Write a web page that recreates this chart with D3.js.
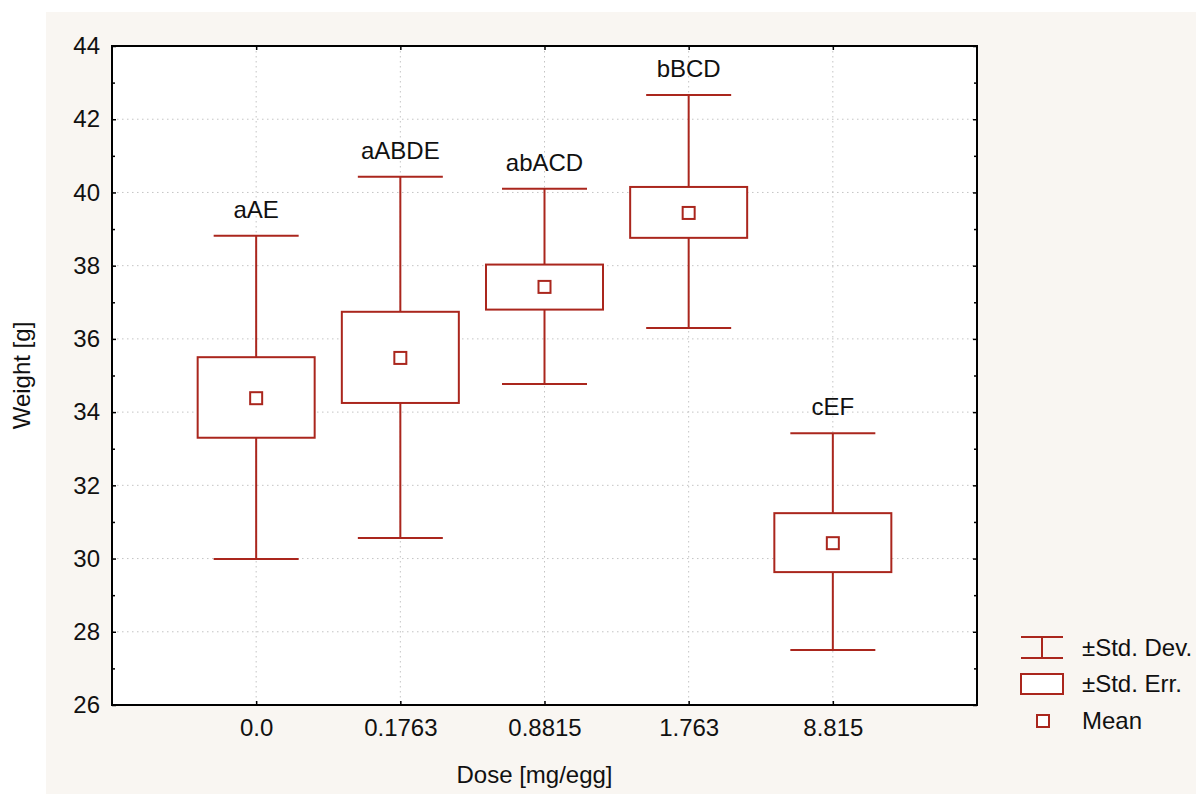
<!DOCTYPE html>
<html>
<head>
<meta charset="utf-8">
<script src="https://cdn.jsdelivr.net/npm/d3@7"></script>
<style>
  body { margin: 0; background: #fff; }
  text { font-family: "Liberation Sans", Arial, sans-serif; fill: #111; }
</style>
</head>
<body>
<script>
// data
var doses = ['0.0', '0.1763', '0.8815', '1.763', '8.815'];
var means = [34.38, 35.48, 37.42, 39.44, 30.42];
var seLow = [33.30, 34.25, 36.80, 38.76, 29.63];
var seHigh = [35.50, 36.74, 38.03, 40.15, 31.24];
var sdLow = [29.99, 30.56, 34.77, 36.30, 27.50];
var sdHigh = [38.82, 40.43, 40.10, 42.66, 33.42];
var letters = ['aAE', 'aABDE', 'abACD', 'bBCD', 'cEF'];
var yTicks = [26, 28, 30, 32, 34, 36, 38, 40, 42, 44];
var legendItems = ['±Std. Dev.', '±Std. Err.', 'Mean'];

var red = '#aa261d';

var svg = d3.select('body').append('svg')
  .attr('width', 1196)
  .attr('height', 796);

// cream panel
svg.append('rect')
  .attr('x', 46).attr('y', 12)
  .attr('width', 1150).attr('height', 782)
  .attr('fill', '#f9f6f2');

// plot frame edges (note: "top" is taken by window.top)
var pL = 112, pR = 977, pT = 46, pB = 705;

var x = d3.scaleLinear().domain([0, 6]).range([pL, pR]);
var y = d3.scaleLinear().domain([26, 44]).range([pB, pT]);

svg.append('rect')
  .attr('x', pL).attr('y', pT)
  .attr('width', pR - pL).attr('height', pB - pT)
  .attr('fill', '#fff');

// grid, dotted
var grid = svg.append('g');
grid.selectAll('line.gy')
  .data(yTicks.slice(1, -1))
  .enter().append('line')
  .attr('class', 'gy')
  .attr('x1', pL).attr('x2', pR)
  .attr('y1', function (d) { return y(d); })
  .attr('y2', function (d) { return y(d); });
grid.selectAll('line.gx')
  .data(doses)
  .enter().append('line')
  .attr('class', 'gx')
  .attr('x1', function (d, i) { return x(i + 1); })
  .attr('x2', function (d, i) { return x(i + 1); })
  .attr('y1', pT).attr('y2', pB);
grid.selectAll('line')
  .attr('stroke', '#c4c4c4')
  .attr('stroke-width', 1)
  .attr('stroke-dasharray', '1.5,3.5');

// axes, ticks pointing inward
var minor = d3.range(27, 44, 2);
var yAxisL = d3.axisLeft(y).tickValues(yTicks).tickSize(-4).tickPadding(12).tickFormat(d3.format('d'));
var yAxisR = d3.axisRight(y).tickValues(yTicks).tickSize(-4).tickFormat('');
var yMinorL = d3.axisLeft(y).tickValues(minor).tickSize(-3).tickFormat('');
var yMinorR = d3.axisRight(y).tickValues(minor).tickSize(-3).tickFormat('');
var xAxisB = d3.axisBottom(x).tickValues([1, 2, 3, 4, 5]).tickSize(-4).tickPadding(14)
  .tickFormat(function (d) { return doses[d - 1]; });
var xAxisT = d3.axisTop(x).tickValues([1, 2, 3, 4, 5]).tickSize(-4).tickFormat('');

function styleAxis(g) {
  g.select('.domain').remove();
  g.selectAll('line').attr('stroke', '#000').attr('stroke-width', 1.5);
  g.selectAll('text').attr('font-size', 24).attr('fill', '#111')
    .attr('font-family', '"Liberation Sans", Arial, sans-serif');
}

svg.append('g').attr('transform', 'translate(' + pL + ',0)').call(yAxisL).call(styleAxis);
svg.append('g').attr('transform', 'translate(' + pL + ',0)').call(yMinorL).call(styleAxis);
svg.append('g').attr('transform', 'translate(' + pR + ',0)').call(yAxisR).call(styleAxis);
svg.append('g').attr('transform', 'translate(' + pR + ',0)').call(yMinorR).call(styleAxis);
svg.append('g').attr('transform', 'translate(0,' + pB + ')').call(xAxisB).call(styleAxis);
svg.append('g').attr('transform', 'translate(0,' + pT + ')').call(xAxisT).call(styleAxis);

// frame
svg.append('rect')
  .attr('x', pL).attr('y', pT)
  .attr('width', pR - pL).attr('height', pB - pT)
  .attr('fill', 'none')
  .attr('stroke', '#000')
  .attr('stroke-width', 2);

// boxes
var boxHalf = 58.5, capHalf = 42.5, meanHalf = 6;
var groups = svg.selectAll('g.box')
  .data(doses)
  .enter().append('g')
  .attr('class', 'box');

groups.append('line')
  .attr('x1', function (d, i) { return x(i + 1); })
  .attr('x2', function (d, i) { return x(i + 1); })
  .attr('y1', function (d, i) { return y(sdHigh[i]); })
  .attr('y2', function (d, i) { return y(sdLow[i]); });
groups.append('line')
  .attr('x1', function (d, i) { return x(i + 1) - capHalf; })
  .attr('x2', function (d, i) { return x(i + 1) + capHalf; })
  .attr('y1', function (d, i) { return y(sdHigh[i]); })
  .attr('y2', function (d, i) { return y(sdHigh[i]); });
groups.append('line')
  .attr('x1', function (d, i) { return x(i + 1) - capHalf; })
  .attr('x2', function (d, i) { return x(i + 1) + capHalf; })
  .attr('y1', function (d, i) { return y(sdLow[i]); })
  .attr('y2', function (d, i) { return y(sdLow[i]); });
groups.append('rect')
  .attr('x', function (d, i) { return x(i + 1) - boxHalf; })
  .attr('y', function (d, i) { return y(seHigh[i]); })
  .attr('width', boxHalf * 2)
  .attr('height', function (d, i) { return y(seLow[i]) - y(seHigh[i]); })
  .attr('fill', '#fff');
groups.append('rect')
  .attr('x', function (d, i) { return x(i + 1) - meanHalf; })
  .attr('y', function (d, i) { return y(means[i]) - meanHalf; })
  .attr('width', meanHalf * 2)
  .attr('height', meanHalf * 2)
  .attr('fill', '#fff');
groups.selectAll('line, rect')
  .attr('stroke', red)
  .attr('stroke-width', 2);

// letters above whiskers
groups.append('text')
  .attr('x', function (d, i) { return x(i + 1); })
  .attr('y', function (d, i) { return y(sdHigh[i]) - 18; })
  .attr('text-anchor', 'middle')
  .attr('font-size', 24)
  .text(function (d, i) { return letters[i]; });

// axis titles
svg.append('text')
  .attr('x', (pL + pR) / 2 - 10)
  .attr('y', 783)
  .attr('text-anchor', 'middle')
  .attr('font-size', 24)
  .text('Dose [mg/egg]');
svg.append('text')
  .attr('transform', 'translate(30,' + ((pT + pB) / 2) + ') rotate(-90)')
  .attr('text-anchor', 'middle')
  .attr('font-size', 24)
  .text('Weight [g]');

// legend
var lg = svg.append('g').attr('transform', 'translate(1021,0)');
var lgY = [648, 684, 721];
lg.append('line').attr('x1', 0).attr('x2', 42).attr('y1', 637).attr('y2', 637);
lg.append('line').attr('x1', 0).attr('x2', 42).attr('y1', 658).attr('y2', 658);
lg.append('line').attr('x1', 21).attr('x2', 21).attr('y1', 637).attr('y2', 658);
lg.append('rect').attr('x', 0).attr('y', 674).attr('width', 42).attr('height', 20).attr('fill', '#fff');
lg.append('rect').attr('x', 16).attr('y', 715).attr('width', 12).attr('height', 12).attr('fill', '#fff');
lg.selectAll('line, rect').attr('stroke', red).attr('stroke-width', 2);
lg.selectAll('text')
  .data(legendItems)
  .enter().append('text')
  .attr('x', 61)
  .attr('y', function (d, i) { return lgY[i]; })
  .attr('dy', '0.35em')
  .attr('font-size', 24)
  .text(function (d) { return d; });
</script>
</body>
</html>
